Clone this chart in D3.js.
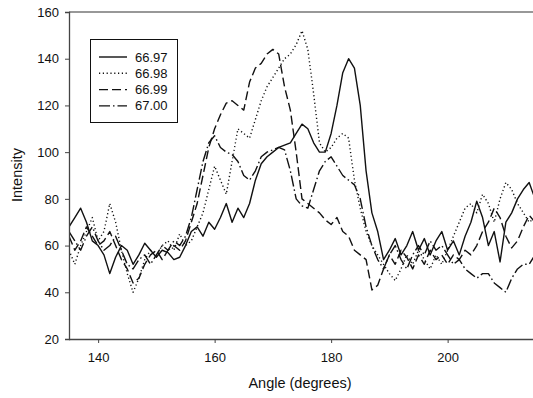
<!DOCTYPE html>
<html>
<head>
<meta charset="utf-8">
<script src="https://cdn.jsdelivr.net/npm/d3@7"></script>
<style>
  html, body { margin: 0; padding: 0; background: #fff; }
  svg { display: block; font-family: "Liberation Sans", Arial, sans-serif; }
</style>
</head>
<body>
<div id="chart"></div>
<script>
// Intensity vs angle, four scans
const angles = d3.range(135, 216, 1);

const s6697 = [68,72,76,70,62,60,56,48,55,60, 58,52,56,61,58,55,58,57,54,55,
  60,66,68,64,70,67,72,78,70,76, 72,78,88,95,98,100,102,103,104,108,
  112,110,104,100,100,108,120,134,140,136, 120,92,74,66,54,58,63,56,60,66,
  58,63,56,62,66,58,62,56,64,70, 79,72,60,66,53,70,74,80,84,87, 80];

const s6698 = [58,52,60,66,72,62,66,78,70,58, 48,40,46,54,58,56,60,62,58,65,
  60,62,68,74,84,94,88,82,96,110, 108,106,114,122,128,132,136,140,142,146,
  152,144,125,104,100,102,106,108,106,88, 76,66,60,56,52,48,45,50,56,52,
  58,54,50,56,52,58,64,70,76,78, 74,82,78,70,80,87,84,78,74,70, 72];

const s6699 = [64,58,62,68,64,60,62,66,60,54, 50,44,46,52,56,58,54,58,60,58,
  62,70,78,90,102,110,116,121,122,120, 118,130,136,138,142,144,142,128,118,100,
  80,78,76,74,71,69,72,66,64,58, 56,54,41,43,50,56,52,58,55,50,
  56,52,58,54,56,52,56,54,58,56, 60,66,70,76,72,64,59,62,68,73, 70];

const s6700 = [66,62,58,64,68,62,58,60,64,58, 52,50,54,56,52,56,60,58,62,60,
  64,72,84,96,104,107,102,100,99,96, 90,88,92,98,100,101,102,101,92,80,
  77,76,84,92,96,98,94,90,88,86, 80,68,60,54,50,56,60,54,50,56,
  60,56,62,58,60,56,52,54,50,48, 46,48,48,44,42,40,46,50,52,52, 56];

const seriesNames = ["66.97", "66.98", "66.99", "67.00"];
const seriesDash = [null, "1.2,2.6", "9,4", "11,3,1.5,3"];
const seriesValues = [s6697, s6698, s6699, s6700];

const xTicks = [140, 160, 180, 200];
const yTicks = [20, 40, 60, 80, 100, 120, 140, 160];

const W = 533, H = 398;
const m = { left: 69, right: 535, top: 12, bottom: 339 };

const svg = d3.select("#chart").append("svg").attr("width", W).attr("height", H);

const x = d3.scaleLinear().domain([135, 215]).range([m.left, m.right]);
const y = d3.scaleLinear().domain([20, 160]).range([m.bottom, m.top]);

svg.append("defs").append("clipPath").attr("id", "plot")
  .append("rect").attr("x", m.left).attr("y", m.top - 2)
  .attr("width", m.right - m.left).attr("height", m.bottom - m.top + 4);

// frame top
svg.append("line").attr("x1", m.left).attr("x2", W).attr("y1", m.top).attr("y2", m.top)
  .attr("stroke", "#333").attr("stroke-width", 1.2);

const line = d3.line().x((d, i) => x(angles[i])).y((d) => y(d));
const gLines = svg.append("g").attr("clip-path", "url(#plot)");
seriesValues.forEach((vals, k) => {
  gLines.append("path").datum(vals)
    .attr("fill", "none").attr("stroke", "#111").attr("stroke-width", 1.4)
    .attr("stroke-linejoin", "round")
    .attr("stroke-dasharray", seriesDash[k])
    .attr("d", line);
});

const gx = svg.append("g").attr("transform", `translate(0,${m.bottom})`)
  .call(d3.axisBottom(x).tickValues(xTicks).tickSize(4).tickPadding(10).tickFormat(d3.format("d")));
gx.select(".domain").attr("d", `M${m.left},0.5H${W}`);
const gy = svg.append("g").attr("transform", `translate(${m.left},0)`)
  .call(d3.axisLeft(y).tickValues(yTicks).tickSize(4).tickPadding(6));
for (const g of [gx, gy]) {
  g.select(".domain").attr("stroke", "#444").attr("stroke-width", 1.3);
  g.selectAll(".tick line").attr("stroke", "#444");
  g.selectAll(".tick text").attr("font-size", 13).attr("fill", "#111")
    .attr("font-family", "Liberation Sans, Arial, sans-serif");
}

svg.append("text").attr("x", 300).attr("y", 388).attr("text-anchor", "middle")
  .attr("font-size", 14.5).attr("fill", "#111").text("Angle (degrees)");
svg.append("text").attr("transform", "translate(22,175) rotate(-90)").attr("text-anchor", "middle")
  .attr("font-size", 14.5).attr("fill", "#111").text("Intensity");

// legend
const lg = svg.append("g");
lg.append("rect").attr("x", 90.5).attr("y", 39.5).attr("width", 87).attr("height", 83)
  .attr("fill", "#fff").attr("stroke", "#111").attr("stroke-width", 1);
seriesNames.forEach((name, k) => {
  const yy = 57 + k * 16.3;
  lg.append("line").attr("x1", 99).attr("x2", 127).attr("y1", yy).attr("y2", yy)
    .attr("stroke", "#111").attr("stroke-width", 1.4).attr("stroke-dasharray", seriesDash[k]);
  lg.append("text").attr("x", 135).attr("y", yy + 4.5).attr("font-size", 13).attr("fill", "#111").text(name);
});
</script>
</body>
</html>
